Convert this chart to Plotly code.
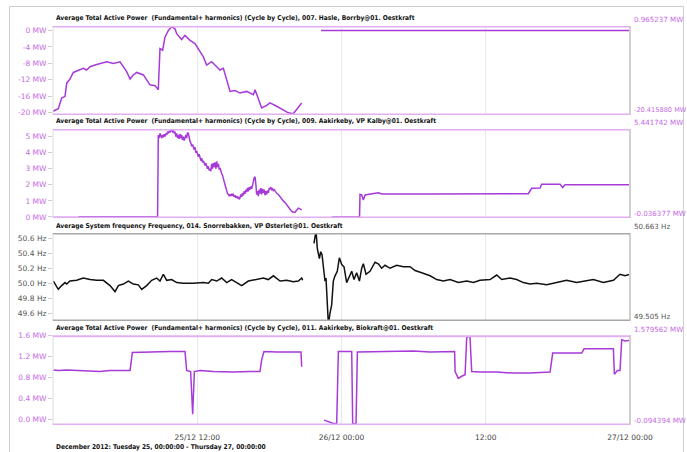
import plotly.graph_objects as go
import pandas as pd

BASE = pd.Timestamp("2012-12-25 00:00")

# ---------------- Panel 1: 007. Hasle, Borrby (MW) ----------------
p1_hours_a = [0.0, 0.44, 0.72, 1.0, 1.14, 1.41, 1.69, 2.25, 2.52, 2.80,
              3.08, 3.49, 3.91, 4.46, 5.02, 5.57, 6.13, 6.41, 6.68, 6.96,
              7.52, 7.79, 8.07, 8.49, 8.76, 8.90, 9.12, 9.32, 9.60, 9.87,
              10.15, 10.29, 10.70, 10.98, 11.40, 11.81, 12.09, 12.51, 12.78, 13.20,
              13.62, 13.89, 14.17, 14.45, 14.73, 15.14, 15.56, 16.11, 16.67, 16.81,
              17.08, 17.36, 17.78, 18.05, 18.61, 19.16, 19.58, 19.99, 20.27, 20.69]
p1_vals_a = [-19.6, -19.0, -16.4, -16.0, -12.8, -11.8, -10.2, -9.6, -9.2, -9.6,
             -8.8, -8.4, -8.0, -7.6, -8.0, -7.6, -10.0, -11.8, -10.8, -10.2,
             -10.8, -12.0, -13.2, -13.4, -14.4, -4.4, -4.8, -1.6, 0.0, 0.9,
             0.4, -0.8, -2.2, -1.2, -2.4, -3.2, -4.4, -6.4, -8.4, -7.6,
             -8.8, -9.6, -9.2, -12.0, -14.8, -14.6, -15.2, -14.8, -15.6, -14.4,
             -16.8, -18.8, -18.2, -17.6, -18.4, -19.2, -20.0, -20.2, -19.2, -17.6]
p1_hours_b = [22.3, 48.0]
p1_vals_b = [0.0, 0.0]
p1_min, p1_max = -20.415880, 0.965237

# ---------------- Panel 2: 009. Aakirkeby, VP Kalby (MW) ----------------
# (hour, MW) pairs
p2_points_a = [
    (0.0, -0.03), (2.1, -0.03), (2.2, 0.02), (8.70, 0.02),
    (8.76, 5.1), (8.83, 4.9), (8.90, 5.2), (8.97, 5.0), (9.04, 4.9), (9.11, 5.1),
    (9.18, 4.95), (9.25, 5.15), (9.32, 5.0), (9.39, 5.2), (9.46, 5.1), (9.53, 5.3),
    (9.60, 5.2), (9.67, 5.35), (9.74, 5.25), (9.80, 5.45), (9.87, 5.4), (9.94, 5.3),
    (10.01, 5.4), (10.08, 5.2), (10.15, 5.3), (10.22, 5.0), (10.29, 5.2), (10.36, 4.9),
    (10.43, 5.1), (10.50, 4.85), (10.57, 5.15), (10.64, 4.9), (10.70, 5.1), (10.77, 4.8),
    (10.84, 5.0), (10.91, 4.75), (10.98, 4.9), (11.05, 5.1), (11.12, 4.9), (11.19, 5.25),
    (11.26, 5.2), (11.33, 4.9), (11.40, 4.7), (11.47, 4.6), (11.54, 4.4), (11.61, 4.5),
    (11.67, 4.3), (11.74, 4.2), (11.81, 4.35), (11.88, 4.0), (11.95, 4.1), (12.02, 3.9),
    (12.09, 3.75), (12.16, 3.9), (12.23, 3.7), (12.30, 3.5), (12.37, 3.65), (12.44, 3.4),
    (12.51, 3.5), (12.58, 3.3), (12.65, 3.2), (12.72, 3.35), (12.78, 3.1), (12.85, 3.0),
    (12.92, 3.15), (12.99, 2.9), (13.06, 3.0), (13.13, 2.85), (13.20, 3.3), (13.27, 3.0),
    (13.34, 3.35), (13.41, 3.1), (13.48, 3.4), (13.55, 3.0), (13.62, 3.45), (13.69, 3.1),
    (13.76, 3.3), (13.83, 2.95), (13.89, 3.05), (13.96, 2.8), (14.03, 2.7), (14.10, 2.6),
    (14.17, 2.45), (14.24, 2.2), (14.31, 2.0), (14.38, 1.8), (14.45, 1.6), (14.52, 1.45),
    (14.59, 1.4), (14.66, 1.3), (14.73, 1.4), (14.80, 1.3), (14.87, 1.45), (14.94, 1.35),
    (15.00, 1.4), (15.07, 1.25), (15.14, 1.35), (15.21, 1.2), (15.28, 1.3), (15.35, 1.15),
    (15.42, 1.25), (15.49, 1.1), (15.56, 1.2), (15.63, 1.4), (15.70, 1.25), (15.77, 1.5),
    (15.84, 1.35), (15.91, 1.6), (15.98, 1.45), (16.05, 1.7), (16.11, 1.55), (16.18, 1.8),
    (16.25, 1.6), (16.32, 1.85), (16.39, 1.7), (16.46, 1.9), (16.53, 1.75), (16.60, 2.1),
    (16.67, 2.2), (16.74, 2.45), (16.81, 2.5), (16.88, 2.0), (16.94, 1.4), (17.01, 1.6),
    (17.08, 1.3), (17.15, 1.7), (17.22, 1.45), (17.29, 1.8), (17.36, 1.4), (17.43, 1.75),
    (17.50, 1.5), (17.57, 1.7), (17.64, 1.35), (17.71, 1.6), (17.78, 1.4), (17.85, 1.65),
    (17.92, 1.5), (17.99, 1.8), (18.05, 1.75), (18.12, 1.85), (18.19, 1.7), (18.26, 1.75),
    (18.33, 1.65), (18.40, 1.7), (18.47, 1.6), (18.54, 1.55), (18.61, 1.47), (18.75, 1.4),
    (18.89, 1.25), (19.02, 1.16), (19.16, 1.0), (19.30, 0.9), (19.44, 0.75), (19.58, 0.6),
    (19.72, 0.45), (19.86, 0.35), (20.00, 0.3), (20.13, 0.3), (20.27, 0.42), (20.41, 0.55),
    (20.55, 0.5), (20.69, 0.44),
]
p2_hours_b = [23.2, 25.50, 25.54, 25.68, 25.82, 25.96, 27.07, 27.35, 31.36, 34.69,
              37.46, 38.02, 39.54, 39.82, 40.52, 40.65, 42.18, 42.40, 42.60, 48.0]
p2_vals_b = [0.0, 0.0, 1.41, 1.37, 1.06, 1.37, 1.51, 1.43, 1.43, 1.45,
             1.47, 1.43, 1.45, 1.78, 1.80, 2.03, 2.03, 1.83, 2.01, 2.01]
p2_min, p2_max = -0.036377, 5.441742

# ---------------- Panel 3: 014. Snorrebakken frequency (Hz) ----------------
p3_hours_a = [0.03, 0.17, 0.44, 0.72, 1.0, 1.14, 1.41, 1.97, 2.52, 3.08,
              3.63, 4.19, 4.74, 5.16, 5.44, 5.85, 6.27, 6.68, 7.10, 7.38,
              7.79, 8.21, 8.62, 8.90, 9.18, 9.46, 9.87, 10.29, 10.84, 11.67,
              12.51, 12.92, 13.20, 13.62, 14.03, 14.45, 14.86, 15.28, 15.70, 16.25,
              16.94, 17.50, 17.91, 18.33, 18.89, 19.44, 19.99, 20.41, 20.69, 20.77]
p3_vals_a = [50.03, 49.99, 49.92, 49.97, 50.01, 49.99, 50.03, 50.04, 50.07, 50.05,
             50.04, 50.04, 49.97, 49.89, 49.97, 49.99, 50.03, 49.99, 49.98, 49.92,
             49.97, 50.04, 50.07, 50.03, 50.12, 50.04, 50.05, 50.01, 50.00, 50.00,
             50.01, 50.00, 50.05, 50.03, 50.07, 50.01, 50.05, 50.01, 49.97, 50.03,
             50.05, 50.07, 50.05, 50.10, 50.03, 50.04, 50.02, 50.03, 50.07, 50.04]
p3_hours_b = [21.71, 21.88, 21.99, 22.16, 22.27, 22.38, 22.55, 22.63, 22.71, 22.82,
              22.91, 23.04, 23.18, 23.32, 23.46, 23.65, 23.82, 24.02, 24.21, 24.43,
              24.65, 24.85, 25.04, 25.26, 25.49, 25.68, 25.82, 26.04, 26.37, 26.79,
              27.06, 27.34, 27.62, 28.04, 28.59, 29.15, 29.70, 30.12, 30.67, 31.37,
              31.92, 32.47, 33.03, 33.72, 34.42, 34.97, 35.52, 36.36, 36.91, 37.33,
              38.02, 38.57, 39.13, 39.68, 40.24, 41.07, 41.90, 42.73, 43.56, 44.40,
              44.95, 45.78, 46.62, 47.17, 47.59, 48.0]
p3_vals_b = [50.53, 50.70, 50.46, 50.33, 50.42, 50.38, 50.14, 50.03, 50.07, 49.62,
             49.45, 49.60, 49.71, 50.03, 50.10, 50.16, 50.34, 50.25, 50.22, 50.01,
             50.10, 50.16, 50.05, 50.14, 50.03, 50.20, 50.26, 50.12, 50.16, 50.28,
             50.26, 50.20, 50.24, 50.20, 50.24, 50.22, 50.22, 50.17, 50.14, 50.10,
             50.05, 50.03, 50.05, 50.01, 50.03, 50.01, 50.04, 50.05, 50.11, 50.05,
             50.07, 50.05, 50.01, 49.99, 50.00, 49.98, 50.01, 50.04, 50.01, 50.03,
             50.05, 50.01, 50.04, 50.12, 50.10, 50.12]
p3_min, p3_max = 49.505, 50.663

# ---------------- Panel 4: 011. Aakirkeby, Biokraft (MW) ----------------
p4_hours_a = [0.03, 0.44, 1.14, 1.97, 2.80, 3.91, 4.74, 5.57, 6.41, 6.60,
              7.52, 8.62, 9.73, 10.98, 11.12, 11.45, 11.62, 11.76, 12.23, 13.34,
              15.0, 16.39, 17.22, 17.36, 17.55, 18.61, 19.72, 20.55, 20.63, 20.69]
p4_vals_a = [0.94, 0.93, 0.94, 0.93, 0.91, 0.91, 0.93, 0.93, 0.93, 1.27,
             1.28, 1.28, 1.29, 1.29, 0.93, 0.91, 0.10, 0.91, 0.93, 0.91,
             0.90, 0.91, 0.91, 1.13, 1.29, 1.28, 1.28, 1.28, 1.28, 1.0]
p4_hours_b = [22.55, 22.91, 23.32, 23.60, 23.74, 23.82, 24.71, 24.85, 24.93, 25.21,
              25.32, 27.20, 29.98, 31.37, 33.41, 33.45, 33.72, 34.00, 34.28, 34.42,
              34.69, 34.83, 35.53, 36.91, 38.30, 39.69, 41.35, 41.57, 42.46, 43.98,
              44.18, 45.23, 46.62, 46.70, 46.95, 47.17, 47.31, 47.59, 48.0]
p4_vals_b = [-0.01, -0.04, -0.075, -0.075, 1.29, 1.29, 1.28, 1.29, -0.08, -0.08,
             1.28, 1.29, 1.30, 1.28, 1.29, 0.91, 0.78, 0.82, 0.85, 1.57,
             1.57, 0.91, 0.90, 0.90, 0.88, 0.88, 0.90, 1.26, 1.26, 1.26,
             1.34, 1.34, 1.34, 0.86, 0.93, 0.93, 1.51, 1.49, 1.50]
p4_min, p4_max = -0.094394, 1.579562

# ---------------- Axis labels / titles ----------------
titles = [
    "Average Total Active Power  (Fundamental+ harmonics) (Cycle by Cycle), 007. Hasle, Borrby@01. Oestkraft",
    "Average Total Active Power  (Fundamental+ harmonics) (Cycle by Cycle), 009. Aakirkeby, VP Kalby@01. Oestkraft",
    "Average System frequency Frequency, 014. Snorrebakken, VP Østerlet@01. Oestkraft",
    "Average Total Active Power  (Fundamental+ harmonics) (Cycle by Cycle), 011. Aakirkeby, Biokraft@01. Oestkraft",
]
p1_ticks = [0, -4, -8, -12, -16, -20]
p1_ticktext = ["0 MW", "-4 MW", "-8 MW", "-12 MW", "-16 MW", "-20 MW"]
p2_ticks = [0, 1, 2, 3, 4, 5]
p2_ticktext = ["0 MW", "1 MW", "2 MW", "3 MW", "4 MW", "5 MW"]
p3_ticks = [49.6, 49.8, 50.0, 50.2, 50.4, 50.6]
p3_ticktext = ["49.6 Hz", "49.8 Hz", "50.0 Hz", "50.2 Hz", "50.4 Hz", "50.6 Hz"]
p4_ticks = [0.0, 0.4, 0.8, 1.2, 1.6]
p4_ticktext = ["0.0 MW", "0.4 MW", "0.8 MW", "1.2 MW", "1.6 MW"]
x_tick_hours = [12, 24, 36, 48]
x_ticktext = ["25/12 12:00", "26/12 00:00", "12:00", "27/12 00:00"]
max_labels = ["0.965237 MW", "5.441742 MW", "50.663 Hz", "1.579562 MW"]
min_labels = ["-20.415880 MW", "-0.036377 MW", "49.505 Hz", "-0.094394 MW"]
footer = "December 2012: Tuesday 25, 00:00:00 - Thursday 27, 00:00:00"

# ---------------- Build ----------------
W, H = 687, 452
PURPLE = "#a73ad8"
LABEL_PURPLE = "#c66ae6"
PINK = "#e2b0f2"
GRAY_TXT = "#555555"


def to_time(hours):
    return [BASE + pd.Timedelta(hours=h) for h in hours]


def join(ha, va, hb, vb):
    x = to_time(ha) + [None] + to_time(hb)
    y = list(va) + [None] + list(vb)
    return x, y


def side_size(text):
    # keep long right-hand labels inside the 687 px page
    return 6.6 if len(text) > 12 else 7.1


p2_hours_a = [p[0] for p in p2_points_a]
p2_vals_a = [p[1] for p in p2_points_a]

series = [
    join(p1_hours_a, p1_vals_a, p1_hours_b, p1_vals_b),
    join(p2_hours_a, p2_vals_a, p2_hours_b, p2_vals_b),
    join(p3_hours_a, p3_vals_a, p3_hours_b, p3_vals_b),
    join(p4_hours_a, p4_vals_a, p4_hours_b, p4_vals_b),
]
ranges = [(p1_min, p1_max), (p2_min, p2_max), (p3_min, p3_max), (p4_min, p4_max)]
ticks = [(p1_ticks, p1_ticktext), (p2_ticks, p2_ticktext),
         (p3_ticks, p3_ticktext), (p4_ticks, p4_ticktext)]
line_colors = [PURPLE, PURPLE, "#111111", PURPLE]
label_colors = [LABEL_PURPLE, LABEL_PURPLE, GRAY_TXT, LABEL_PURPLE]
edge_colors = [PINK, PINK, "#a8a8a8", PINK]

# pixel layout (top, bottom) of each plot area
panel_px = [(26, 115), (129, 218), (233, 321), (335, 425)]
title_px = [18, 121, 226, 328]
X0, X1 = 53, 630


def py(y):
    return 1 - y / H


fig = go.Figure()
layout = dict(
    width=W, height=H, autosize=False,
    margin=dict(l=0, r=0, t=0, b=0, pad=0, autoexpand=False),
    plot_bgcolor="white", paper_bgcolor="white", showlegend=False,
    font=dict(family="DejaVu Sans", size=8, color="#333"),
)
shapes = []
annotations = []
xr = [BASE, BASE + pd.Timedelta(hours=48)]
for i in range(4):
    n = "" if i == 0 else str(i + 1)
    x, y = series[i]
    fig.add_trace(go.Scatter(x=x, y=y, mode="lines", xaxis="x" + n, yaxis="y" + n,
                             line=dict(color=line_colors[i], width=1.5),
                             connectgaps=False, hoverinfo="skip"))
    top, bot = panel_px[i]
    lo, hi = ranges[i]
    pad = (hi - lo) * 0.005
    r_lo = min(lo - pad, min(ticks[i][0]) - pad * 0.2)
    r_hi = max(hi + pad, max(ticks[i][0]) + pad * 0.2)
    layout["xaxis" + n] = dict(
        domain=[X0 / W, X1 / W], range=xr, anchor="y" + n, automargin=False,
        showgrid=True, gridcolor="#e9e9e9", gridwidth=1,
        tickvals=to_time(x_tick_hours), ticktext=x_ticktext,
        showticklabels=(i == 3), ticks="", zeroline=False, showline=False,
        ticklabelstandoff=6,
        tickfont=dict(family="DejaVu Sans", size=7.5, color="#444"),
    )
    layout["yaxis" + n] = dict(
        domain=[py(bot), py(top)], range=[r_lo, r_hi], anchor="x" + n, automargin=False,
        tickvals=ticks[i][0], ticktext=ticks[i][1],
        showgrid=False, zeroline=False, showline=False,
        ticks="outside", ticklen=4, tickcolor="#cccccc",
        tickfont=dict(family="DejaVu Sans", size=7.5, color=label_colors[i]),
    )
    xd = "x" + n + " domain"
    yd = "y" + n + " domain"
    ya = "y" + n
    shapes += [
        dict(type="line", xref=xd, yref=yd, x0=0, x1=0, y0=0, y1=1,
             line=dict(color="#dddddd", width=1)),
        dict(type="line", xref=xd, yref=yd, x0=1, x1=1, y0=0, y1=1,
             line=dict(color="#d0d0d0", width=2)),
        dict(type="line", xref=xd, yref=ya, x0=0, x1=1, y0=hi, y1=hi,
             line=dict(color=edge_colors[i], width=2)),
        dict(type="line", xref=xd, yref=ya, x0=0, x1=1, y0=lo, y1=lo,
             line=dict(color=edge_colors[i], width=2)),
    ]
    annotations.append(dict(
        text="<b>" + titles[i] + "</b>", xref="paper", yref="paper",
        x=54 / W, y=py(title_px[i]), xanchor="left", yanchor="middle",
        showarrow=False, font=dict(family="DejaVu Sans Condensed", size=6.6, color="#111")))
    annotations.append(dict(
        text=max_labels[i], xref="paper", yref="paper",
        x=632 / W, y=py(top - 6), xanchor="left", yanchor="middle",
        showarrow=False, font=dict(family="DejaVu Sans", size=side_size(max_labels[i]),
                                   color=label_colors[i])))
    annotations.append(dict(
        text=min_labels[i], xref="paper", yref="paper",
        x=632 / W, y=py(bot - 5), xanchor="left", yanchor="middle",
        showarrow=False, font=dict(family="DejaVu Sans", size=side_size(min_labels[i]),
                                   color=label_colors[i])))

annotations.append(dict(
    text="<b>" + footer + "</b>", xref="paper", yref="paper",
    x=54 / W, y=py(447), xanchor="left", yanchor="middle",
    showarrow=False, font=dict(family="DejaVu Sans Condensed", size=6.6, color="#111")))

# outer frame
shapes.append(dict(type="rect", xref="paper", yref="paper",
                   x0=9.5 / W, x1=683.5 / W, y0=-0.2, y1=py(6.5),
                   line=dict(color="#cfcfcf", width=1), layer="below"))

layout["shapes"] = shapes
layout["annotations"] = annotations
fig.update_layout(**layout)
fig.write_html(
    "out.html",
    config={"displayModeBar": False},
    post_script=("document.documentElement.style.margin='0';"
                 "document.documentElement.style.overflow='hidden';"
                 "document.body.style.margin='0';document.body.style.overflow='hidden';"),
)
